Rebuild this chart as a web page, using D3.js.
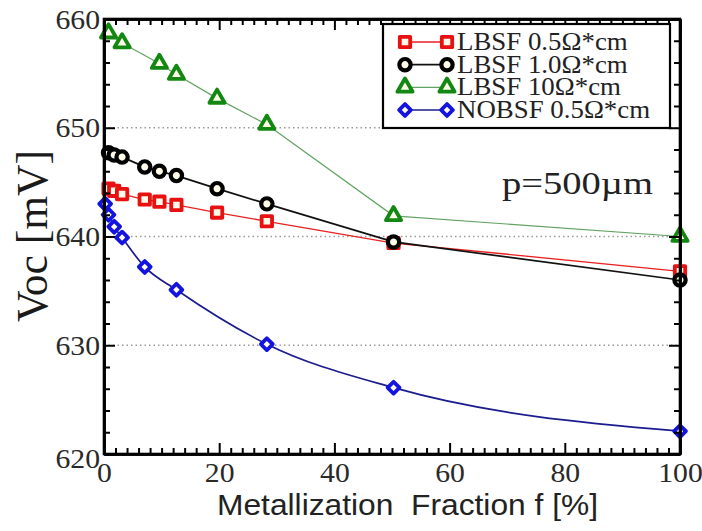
<!DOCTYPE html>
<html>
<head>
<meta charset="utf-8">
<script src="https://cdn.jsdelivr.net/npm/d3@7/dist/d3.min.js"></script>
<style>
  html, body { margin: 0; padding: 0; background: #fff; }
  svg { display: block; }
</style>
</head>
<body>
<svg id="chart" width="702" height="531"></svg>
<script>
// Open-circuit voltage vs. metallization fraction, pitch p = 500 µm
const seriesNames = ["LBSF 0.5Ω*cm", "LBSF 1.0Ω*cm", "LBSF 10Ω*cm", "NOBSF 0.5Ω*cm"];

const fRed   = [0.79, 1.77, 3.14, 7.07, 9.62, 12.57, 19.63, 28.27, 50.27, 100];
const vocRed = [644.4, 644.2, 643.9, 643.4, 643.2, 642.9, 642.2, 641.4, 639.4, 636.8];

const fBlack   = [0.79, 1.77, 3.14, 7.07, 9.62, 12.57, 19.63, 28.27, 50.27, 100];
const vocBlack = [647.7, 647.5, 647.3, 646.4, 646.0, 645.6, 644.4, 643.0, 639.5, 636.0];

const fGreen   = [0.79, 3.14, 9.62, 12.57, 19.63, 28.27, 50.27, 100];
const vocGreen = [658.7, 657.8, 655.9, 654.9, 652.7, 650.3, 641.9, 640.0];

const fBlue   = [0.2, 0.79, 1.77, 3.14, 7.07, 12.57, 28.27, 50.27, 100];
const vocBlue = [643.0, 642.0, 640.9, 639.9, 637.2, 635.1, 630.1, 626.1, 622.1];

const xTicks = [0, 20, 40, 60, 80, 100];
const yTicks = [620, 630, 640, 650, 660];
const gridValues = [630, 640, 650];
const xTitle = "Metallization  Fraction f [%]";
const yTitle = "Voc [mV]";
const note = "p=500µm";

const svg = d3.select("#chart");
const L = 104, R = 680, T = 19, B = 454;
const x = d3.scaleLinear().domain([0, 100]).range([L, R]);
const y = d3.scaleLinear().domain([620, 660]).range([B, T]);

const serif = "'Liberation Serif', 'Times New Roman', serif";
const sans = "'Liberation Sans', Arial, sans-serif";

// dotted horizontal grid
svg.append("g").selectAll("line").data(gridValues).join("line")
  .attr("x1", L).attr("x2", R)
  .attr("y1", d => y(d)).attr("y2", d => y(d))
  .attr("stroke", "#9a9a9a").attr("stroke-width", 1.4)
  .attr("stroke-dasharray", "1.5,3");

// series definitions
const series = [
  { name: seriesNames[0], f: fRed, v: vocRed, line: "#e82020", lw: 1.3, mark: "#e81010", shape: "square" },
  { name: seriesNames[1], f: fBlack, v: vocBlack, line: "#111", lw: 1.7, mark: "#000", shape: "circle" },
  { name: seriesNames[2], f: fGreen, v: vocGreen, line: "#62a262", lw: 1.2, mark: "#128812", shape: "triangle" },
  { name: seriesNames[3], f: fBlue, v: vocBlue, line: "#1c1c8e", lw: 1.7, mark: "#1414e0", shape: "diamond", curve: d3.curveMonotoneX }
];

function symbolPath(shape) {
  if (shape === "square") return d3.symbol(d3.symbolSquare, 108)();
  if (shape === "circle") return d3.symbol(d3.symbolCircle, 100)();
  if (shape === "triangle") return d3.symbol(d3.symbolTriangle, 100)();
  return d3.symbol(d3.symbolSquare, 70)();
}
function drawMarker(g, shape, color) {
  g.append("path")
    .attr("d", symbolPath(shape))
    .attr("transform", shape === "diamond" ? "rotate(45)" : null)
    .attr("fill", "#fffbe8")
    .attr("stroke", color)
    .attr("stroke-linejoin", "round")
    .attr("stroke-width", shape === "circle" ? 4.2 : 3.8);
}

const plot = svg.append("g");
series.forEach(s => {
  const pts = s.f.map((f, i) => [f, s.v[i]]);
  plot.append("path")
    .datum(pts)
    .attr("fill", "none")
    .attr("stroke", s.line)
    .attr("stroke-width", s.lw)
    .attr("d", d3.line().x(d => x(d[0])).y(d => y(d[1])).curve(s.curve || d3.curveLinear));
  const mg = plot.append("g");
  pts.forEach(p => {
    const g = mg.append("g").attr("transform", `translate(${x(p[0])},${y(p[1])})`);
    drawMarker(g, s.shape, s.mark);
  });
});

// axes: ticks point inward on all four sides, minor ticks every 2 units
function styleAxis(g) {
  g.selectAll("path.domain").attr("stroke", "#000").attr("stroke-width", 2.6);
  g.selectAll(".tick line").attr("stroke", "#000").attr("stroke-width", 2);
}
const xMinor = d3.range(0, 101, 2).filter(v => v % 20 !== 0);
const yMinor = d3.range(620, 661, 2).filter(v => v % 10 !== 0);

// minor ticks
svg.append("g").attr("transform", `translate(0,${B})`)
  .call(d3.axisBottom(x).tickValues(xMinor).tickSize(-6).tickSizeOuter(0).tickFormat(""))
  .call(styleAxis);
svg.append("g").attr("transform", `translate(0,${T})`)
  .call(d3.axisTop(x).tickValues(xMinor).tickSize(-6).tickSizeOuter(0).tickFormat(""))
  .call(styleAxis);
svg.append("g").attr("transform", `translate(${L},0)`)
  .call(d3.axisLeft(y).tickValues(yMinor).tickSize(-6).tickSizeOuter(0).tickFormat(""))
  .call(styleAxis);
svg.append("g").attr("transform", `translate(${R},0)`)
  .call(d3.axisRight(y).tickValues(yMinor).tickSize(-6).tickSizeOuter(0).tickFormat(""))
  .call(styleAxis);

// major ticks with labels
const xAxis = svg.append("g").attr("transform", `translate(0,${B})`)
  .call(d3.axisBottom(x).tickValues(xTicks).tickSize(-11).tickSizeOuter(0).tickPadding(5).tickFormat(d3.format("d")))
  .call(styleAxis);
xAxis.selectAll("text")
  .attr("font-family", serif).attr("font-size", 27).attr("fill", "#2a2a2a")
  .attr("y", 0).attr("dy", null)
  .attr("transform", "translate(0,28) scale(1.1,1)");

svg.append("g").attr("transform", `translate(0,${T})`)
  .call(d3.axisTop(x).tickValues(xTicks).tickSize(-11).tickSizeOuter(0).tickFormat(""))
  .call(styleAxis);

const yAxis = svg.append("g").attr("transform", `translate(${L},0)`)
  .call(d3.axisLeft(y).tickValues(yTicks).tickSize(-11).tickSizeOuter(0).tickPadding(4).tickFormat(d3.format("d")))
  .call(styleAxis);
yAxis.selectAll("text")
  .attr("font-family", serif).attr("font-size", 27).attr("fill", "#2a2a2a")
  .attr("x", 0).attr("dy", null)
  .attr("transform", d => `translate(-4,${d === 620 ? 13 : 9}) scale(1.1,1)`);

svg.append("g").attr("transform", `translate(${R},0)`)
  .call(d3.axisRight(y).tickValues(yTicks).tickSize(-11).tickSizeOuter(0).tickFormat(""))
  .call(styleAxis);

// frame
svg.append("rect").attr("x", L).attr("y", T).attr("width", R - L).attr("height", B - T)
  .attr("fill", "none").attr("stroke", "#000").attr("stroke-width", 2.6);

// axis titles
svg.append("text")
  .attr("x", 217).attr("y", 515)
  .attr("font-family", sans).attr("font-size", 30).attr("fill", "#222")
  .attr("textLength", 381).attr("lengthAdjust", "spacingAndGlyphs")
  .attr("xml:space", "preserve")
  .text(xTitle);

svg.append("text")
  .attr("transform", "translate(47,236) scale(1.12,1) rotate(-90)")
  .attr("text-anchor", "middle")
  .attr("font-family", serif).attr("font-size", 40).attr("fill", "#1a1a1a")
  .attr("textLength", 172).attr("lengthAdjust", "spacingAndGlyphs")
  .text(yTitle);

// annotation
svg.append("text")
  .attr("x", 502).attr("y", 194)
  .attr("font-family", serif).attr("font-size", 31).attr("fill", "#222")
  .attr("textLength", 151).attr("lengthAdjust", "spacingAndGlyphs")
  .text(note);

// legend
const lg = svg.append("g");
lg.append("rect").attr("x", 383).attr("y", 24).attr("width", 287).attr("height", 104)
  .attr("fill", "#fff").attr("stroke", "#000").attr("stroke-width", 2.2);
const rowY = d3.scalePoint().domain(seriesNames).range([42, 110]);
series.forEach(s => {
  const ry = rowY(s.name);
  lg.append("line").attr("x1", 405).attr("x2", 447).attr("y1", ry).attr("y2", ry)
    .attr("stroke", s.line).attr("stroke-width", s.lw);
  [405, 447].forEach(px => {
    const g = lg.append("g").attr("transform", `translate(${px},${ry})`);
    drawMarker(g, s.shape, s.mark);
  });
  lg.append("text")
    .attr("transform", `translate(457,${ry + 8}) scale(1.12,1.08)`)
    .attr("font-family", serif).attr("font-size", 24).attr("fill", "#222")
    .text(s.name);
});
</script>
</body>
</html>
